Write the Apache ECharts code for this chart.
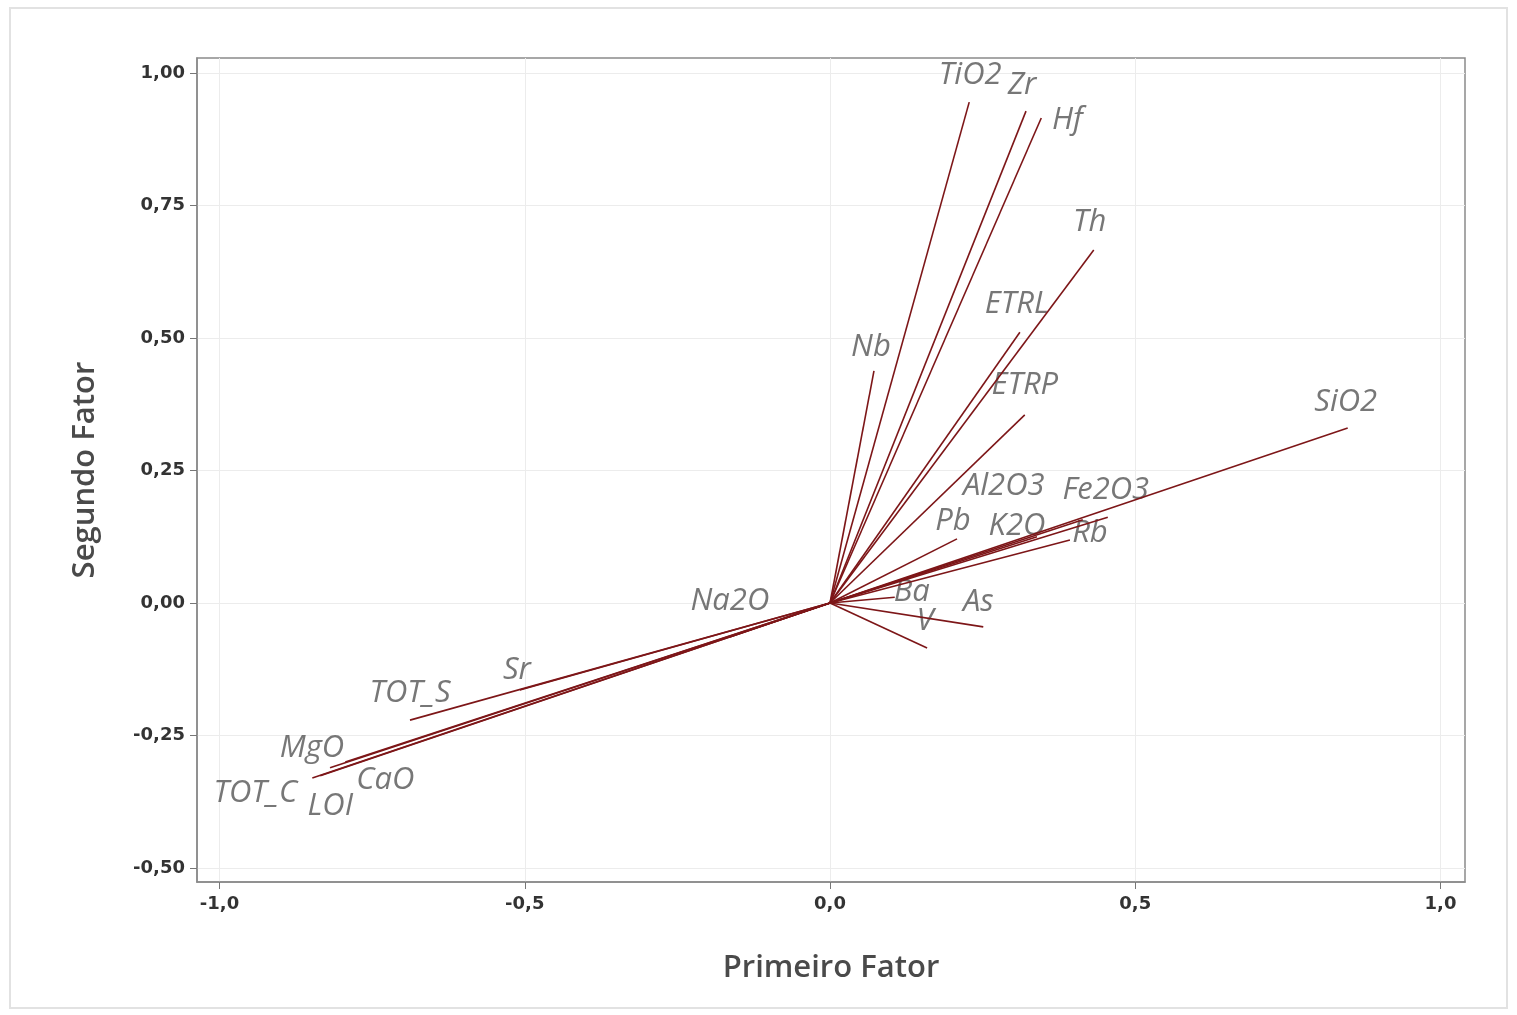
<!DOCTYPE html>
<html>
<head>
<meta charset="utf-8">
<script src="https://cdn.jsdelivr.net/npm/echarts@6/dist/echarts.min.js"></script>
<style>
  html, body { margin: 0; padding: 0; background: #fff; }
  #chart { width: 1517px; height: 1015px; }
</style>
</head>
<body>
<div id="chart"></div>
<script>
  // loadings
  const variables = ["TiO2", "Zr", "Hf", "Th", "ETRL", "Nb", "ETRP", "SiO2", "Al2O3", "Fe2O3", "Pb", "K2O", "Rb",
    "Ba", "As", "V", "Na2O", "Sr", "TOT_S", "MgO", "TOT_C", "LOI", "CaO"];
  const factor1 = [0.228, 0.321, 0.346, 0.432, 0.311, 0.072, 0.319, 0.848, 0.414, 0.455, 0.208, 0.339, 0.393,
    0.106, 0.251, 0.159, -0.164, -0.508, -0.688, -0.819, -0.848, -0.835, -0.794];
  const factor2 = [0.945, 0.928, 0.915, 0.666, 0.511, 0.438, 0.355, 0.330, 0.157, 0.162, 0.121, 0.125, 0.119,
    0.011, -0.045, -0.085, -0.064, -0.164, -0.221, -0.311, -0.330, -0.326, -0.300];
  const xTicks = [-1.0, -0.5, 0.0, 0.5, 1.0];
  const yTicks = [-0.5, -0.25, 0, 0.25, 0.5, 0.75, 1.0];

  // label nudges in px (label centre relative to line end)
  const labelOffsets = [[1, -27], [-4, -26], [26, 2], [-4, -28], [-3, -28], [-3, -24], [0, -30], [-2, -26],
    [-79, -34], [-2, -27], [-4, -18], [-20, -11], [20, -7], [17, -5], [-5, -25], [-2, -27], [0, -36],
    [-3, -20], [0, -27], [-18, -20], [-57, 15], [10, 30], [40, 18]];

  const lineColor = "#7d1618";
  const chart = echarts.init(document.getElementById("chart"));

  const lineSeries = variables.map((name, i) => ({
    name: name,
    type: "line",
    data: [[0, 0], [factor1[i], factor2[i]]],
    symbol: "none",
    silent: true,
    lineStyle: { color: lineColor, width: 1.6 },
  }));

  const labelSeries = {
    type: "scatter",
    symbolSize: 0,
    silent: true,
    data: variables.map((name, i) => ({
      name: name,
      value: [factor1[i], factor2[i]],
      label: { offset: labelOffsets[i] },
    })),
    label: {
      show: true,
      position: "inside",
      formatter: (p) => p.name,
      fontFamily: "Open Sans",
      fontStyle: "italic",
      fontSize: 31,
      color: "#555",
    },
  };

  const fmtX = (v) => v.toFixed(1).replace(".", ",");
  const fmtY = (v) => v.toFixed(2).replace(".", ",");

  chart.setOption({
    animation: false,
    backgroundColor: "#fff",
    graphic: [
      {
        type: "rect",
        shape: { x: 10, y: 8, width: 1497, height: 1000 },
        style: { fill: "none", stroke: "#e2e2e2", lineWidth: 2 },
        silent: true,
      },
    ],
    grid: {
      left: 197,
      top: 58,
      right: 52,
      bottom: 133,
      show: true,
      borderColor: "#8a8a8a",
      borderWidth: 1.5,
    },
    xAxis: {
      type: "value",
      min: -1.0369,
      max: 1.0401,
      name: "Primeiro Fator",
      nameLocation: "middle",
      nameGap: 71,
      nameTextStyle: { fontFamily: "Open Sans", fontSize: 31, color: "#4a4a4a", fontWeight: 600 },
      axisLine: { show: true, onZero: false, lineStyle: { color: "#8a8a8a", width: 1.5 } },
      axisTick: { show: true, length: 7, customValues: xTicks, lineStyle: { color: "#777" } },
      axisLabel: {
        customValues: xTicks,
        formatter: fmtX,
        fontFamily: "DejaVu Sans",
        fontWeight: "bold",
        fontSize: 18,
        color: "#333",
        margin: 13,
      },
      splitLine: { show: true, lineStyle: { color: "#ececec" } },
    },
    yAxis: {
      type: "value",
      min: -0.5264,
      max: 1.0283,
      name: "Segundo Fator",
      nameLocation: "middle",
      nameGap: 96,
      nameTextStyle: { fontFamily: "Open Sans", fontSize: 31, color: "#4a4a4a", fontWeight: 600 },
      axisLine: { show: true, onZero: false, lineStyle: { color: "#8a8a8a", width: 1.5 } },
      axisTick: { show: true, length: 7, customValues: yTicks, lineStyle: { color: "#777" } },
      axisLabel: {
        customValues: yTicks,
        formatter: fmtY,
        fontFamily: "DejaVu Sans",
        fontWeight: "bold",
        fontSize: 18,
        color: "#333",
        margin: 12,
      },
      splitLine: { show: true, lineStyle: { color: "#ececec" } },
    },
    series: [...lineSeries, labelSeries],
  });
</script>
</body>
</html>
